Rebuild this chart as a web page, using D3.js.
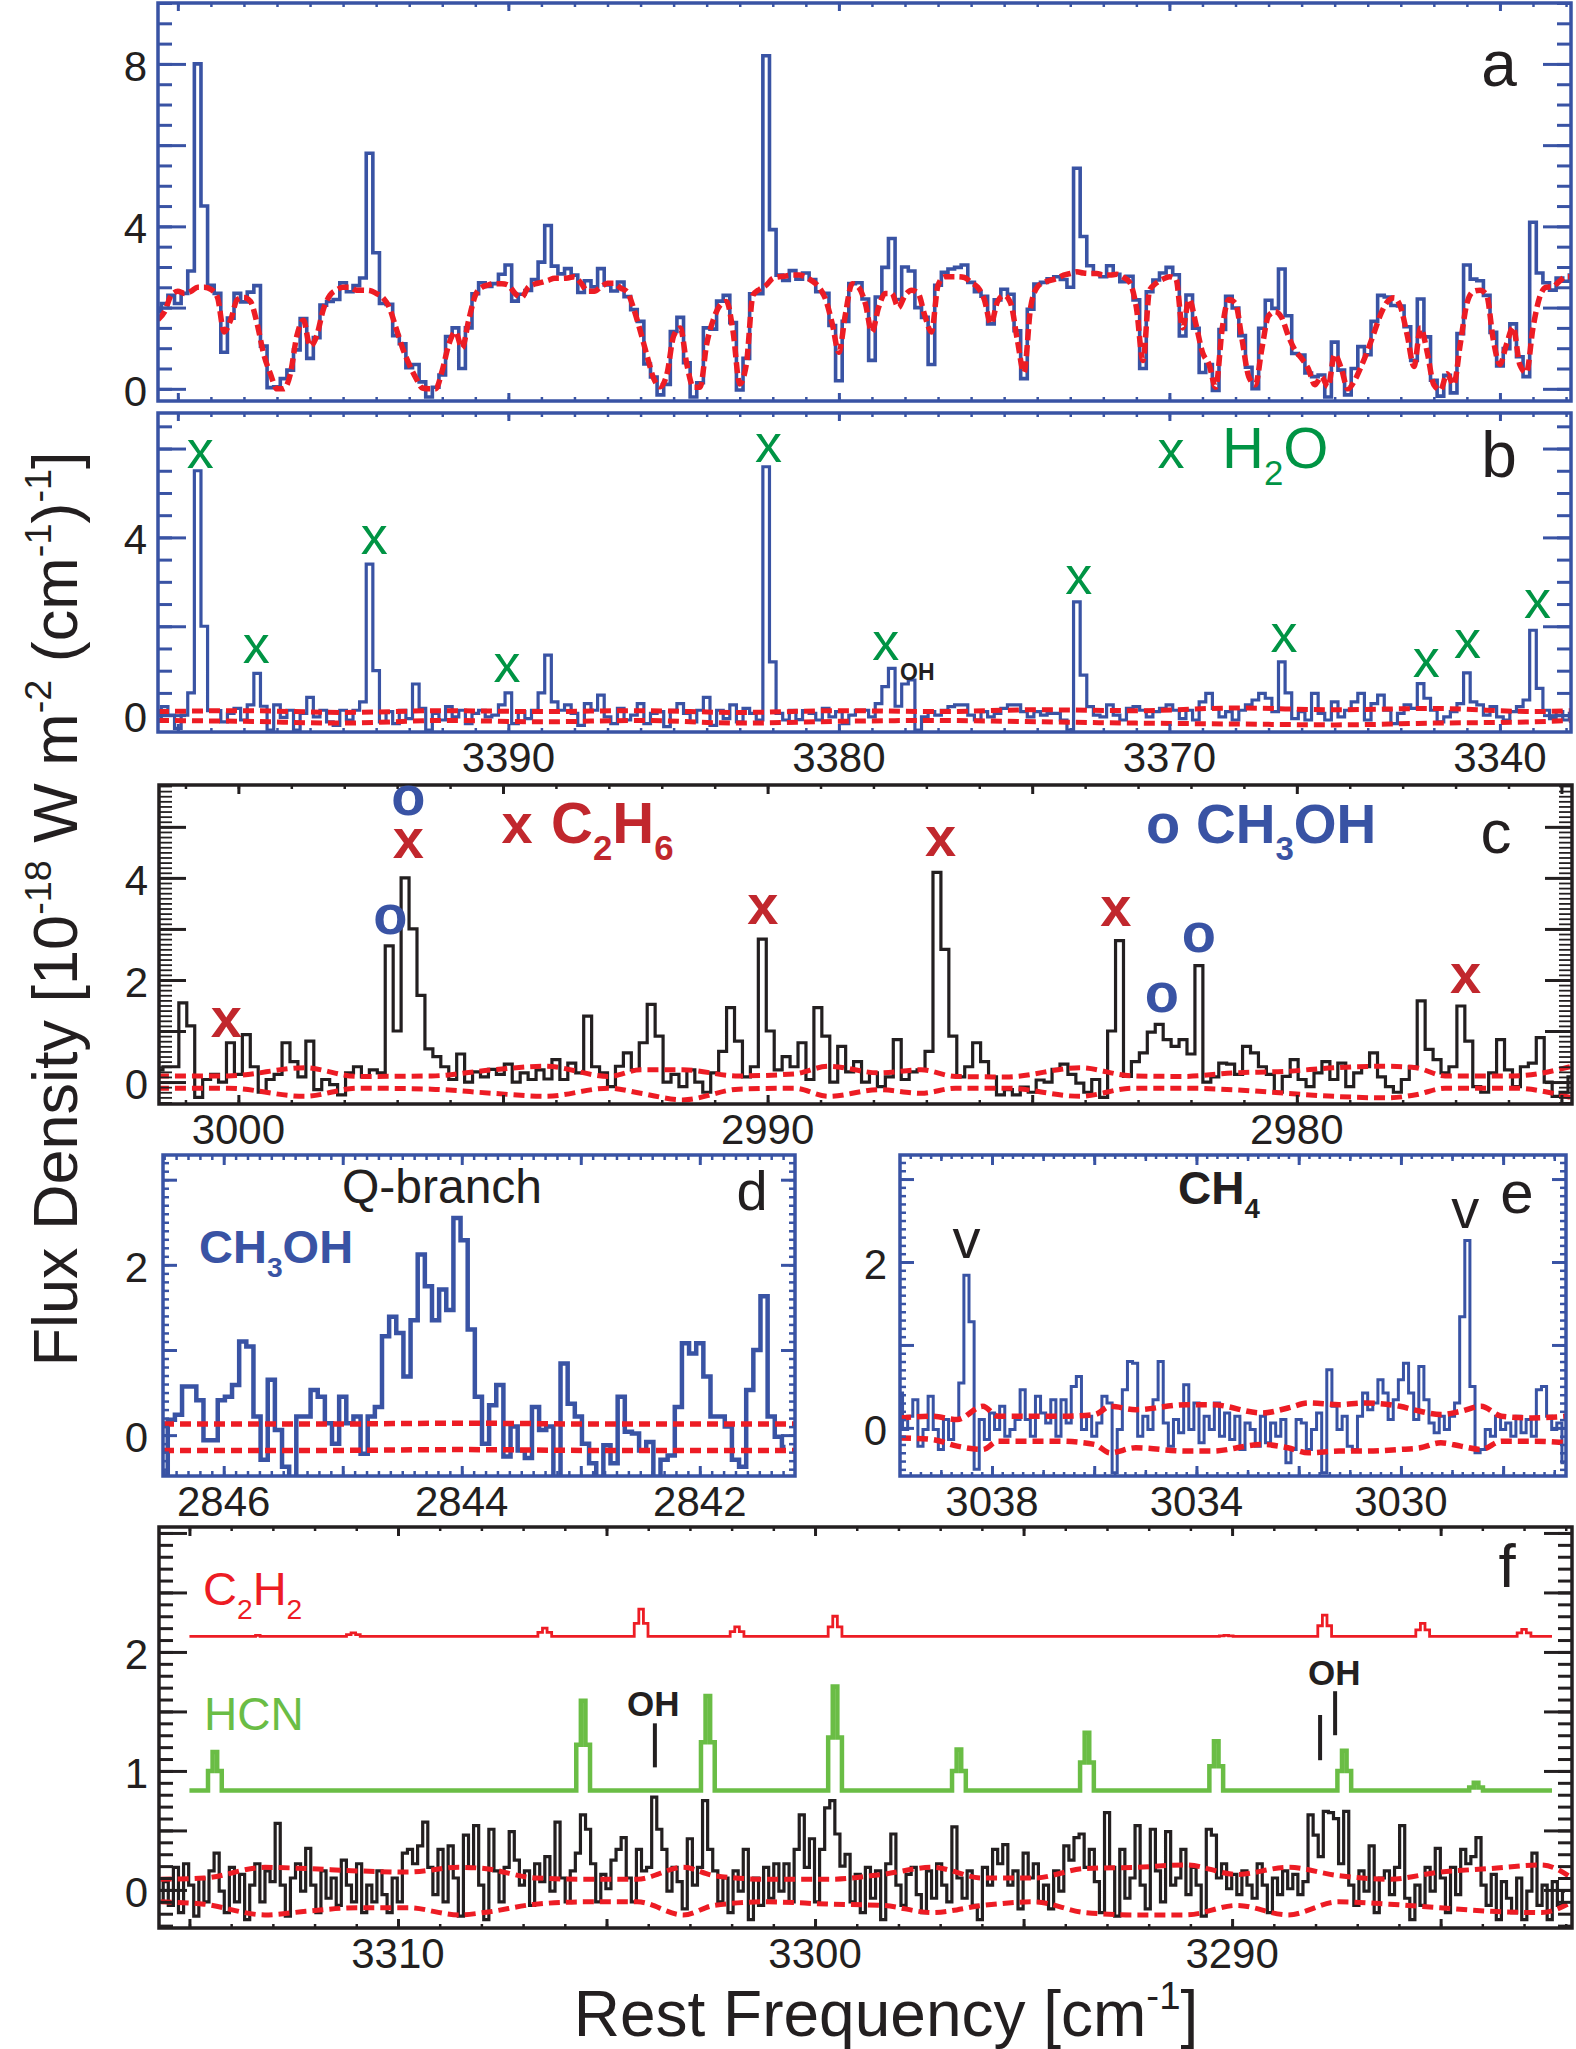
<!DOCTYPE html>
<html>
<head>
<meta charset="utf-8">
<script src="https://cdn.jsdelivr.net/npm/d3@7"></script>
<style>body { margin: 0; background: #fff; }</style>
</head>
<body>
<script>
// ---------------- data (wavenumbers in cm-1, flux in 1e-18 W m-2 (cm-1)-1) ----------------

// panels a and b share one grid: 3400.6 cm-1 down in steps of 0.2
var abStart = 3400.6, abStep = 0.2, abCount = 215;
var aFlux = [1.9, 2.1, 2.3, 2.1, 2.35, 2.9, 8.0, 4.5, 2.55, 2.35,
  0.9, 1.74, 2.35, 2.14, 2.38, 2.54, 1.05, 0.03, 0.05, 0.25,
  0.46, 0.96, 1.73, 0.75, 1.26, 2.06, 2.15, 2.2, 2.61, 2.39,
  2.54, 2.73, 5.8, 3.35, 2.1, 2.08, 1.31, 1.11, 0.52, 0.6,
  0.17, -0.2, 0.04, 0.34, 1.29, 1.5, 0.5, 1.5, 2.34, 2.61,
  2.52, 2.59, 2.82, 3.05, 2.16, 2.33, 2.42, 2.69, 3.12, 4.02,
  3.02, 2.83, 2.96, 2.8, 2.37, 2.66, 2.51, 2.96, 2.56, 2.41,
  2.63, 2.27, 1.95, 1.66, 0.61, 0.29, -0.15, 0.11, 1.41, 1.76,
  0.64, -0.2, 0.15, 1.5, 1.47, 2.16, 2.3, 1.63, -0.03, 0.75,
  2.34, 2.34, 8.2, 3.92, 2.8, 2.67, 2.91, 2.7, 2.85, 2.69,
  2.39, 2.35, 1.56, 0.2, 1.66, 2.59, 2.61, 2.21, 0.7, 2.26,
  2.99, 3.7, 2.2, 3.0, 2.9, 2.0, 1.76, 0.6, 2.55, 2.87,
  2.95, 2.99, 3.05, 2.62, 2.39, 2.28, 1.6, 2.19, 2.45, 2.33,
  1.43, 0.25, 1.96, 2.58, 2.62, 2.71, 2.76, 2.69, 2.5, 5.43,
  3.75, 3.03, 2.84, 2.76, 3.03, 2.82, 2.64, 2.77, 2.19, 0.5,
  2.39, 2.68, 2.85, 2.99, 2.81, 1.3, 2.31, 1.49, 0.4, 0.6,
  -0.04, 1.46, 2.28, 1.99, 1.31, 0.53, 0.0, 1.49, 2.18, 1.98,
  2.95, 1.8, 0.87, 0.83, 0.39, 0.3, 0.34, -0.2, 1.15, 0.46,
  -0.15, 0.5, 1.04, 0.84, 1.66, 2.3, 2.26, 2.05, 2.04, 1.53,
  0.7, 2.21, 1.28, 0.21, -0.18, 0.33, -0.1, 1.36, 3.05, 2.7,
  2.66, 2.3, 1.39, 0.56, 0.99, 1.6, 0.79, 0.3, 4.1, 2.85,
  2.61, 2.43, 2.73, 2.65, 2.8];
var aModel = [1.7, 1.9, 2.3, 2.4, 2.35, 2.4, 2.5, 2.5, 2.45, 2.25,
  1.4, 1.7, 2.2, 2.25, 2.15, 1.6, 0.85, 0.37, 0.0, 0.0,
  0.35, 1.3, 1.69, 1.05, 1.3, 1.95, 2.3, 2.43, 2.5, 2.5,
  2.43, 2.43, 2.42, 2.35, 2.25, 2.0, 1.5, 1.0, 0.6, 0.27,
  0.02, 0.0, 0.0, 0.45, 1.1, 1.4, 1.0, 1.69, 2.3, 2.5,
  2.56, 2.59, 2.59, 2.55, 2.35, 2.25, 2.5, 2.58, 2.62, 2.67,
  2.72, 2.72, 2.73, 2.76, 2.6, 2.4, 2.4, 2.51, 2.6, 2.6,
  2.48, 2.38, 1.95, 1.4, 0.8, 0.25, 0.05, 0.37, 1.3, 1.5,
  0.6, 0.04, 0.04, 1.1, 1.7, 2.05, 2.15, 1.4, 0.12, 0.6,
  2.3, 2.45, 2.55, 2.72, 2.76, 2.78, 2.8, 2.8, 2.75, 2.65,
  2.5, 2.2, 1.6, 0.9, 1.85, 2.59, 2.5, 2.1, 1.4, 2.0,
  2.35, 2.35, 2.0, 2.3, 2.43, 2.35, 1.8, 1.4, 2.55, 2.76,
  2.76, 2.76, 2.74, 2.62, 2.5, 2.2, 1.6, 2.15, 2.3, 2.1,
  1.2, 0.4, 2.0, 2.5, 2.62, 2.67, 2.72, 2.8, 2.84, 2.88,
  2.85, 2.84, 2.84, 2.8, 2.8, 2.82, 2.75, 2.62, 2.0, 0.7,
  2.43, 2.6, 2.7, 2.76, 2.7, 1.5, 2.2, 1.6, 0.9, 0.6,
  0.04, 1.5, 2.2, 2.1, 1.2, 0.3, 0.1, 1.0, 1.8, 1.9,
  1.75, 1.3, 0.95, 0.75, 0.5, 0.1, 0.3, 0.05, 0.85, 0.5,
  0.0, 0.2, 0.55, 0.95, 1.4, 1.85, 2.15, 2.24, 2.0, 1.3,
  0.55, 1.5, 0.9, 0.1, -0.03, 0.37, 0.1, 1.1, 2.1, 2.4,
  2.43, 2.3, 1.2, 0.6, 1.1, 1.52, 0.6, 0.4, 1.5, 2.25,
  2.5, 2.51, 2.65, 2.76, 2.76];
var bResid = [-0.1, 0.19, 0.0, -0.3, 0.0, 0.5, 5.5, 2.0, 0.1, 0.1,
  -0.15, 0.04, 0.15, -0.11, 0.23, 0.94, 0.2, -0.34, 0.23, -0.05,
  0.11, -0.34, 0.04, 0.4, -0.04, 0.11, -0.15, -0.23, 0.11, -0.11,
  0.11, 0.3, 3.4, 1.0, -0.15, 0.08, -0.19, 0.11, -0.08, 0.7,
  0.15, -0.34, 0.04, -0.11, 0.19, -0.04, 0.11, -0.19, 0.04, 0.11,
  -0.04, 0.0, 0.23, 0.5, -0.19, 0.08, -0.08, 0.11, 0.5, 1.35,
  0.3, 0.11, 0.23, 0.04, -0.23, 0.26, 0.11, 0.45, -0.04, -0.19,
  0.15, -0.11, 0.0, 0.26, -0.19, 0.04, 0.08, -0.26, 0.11, 0.26,
  0.04, -0.15, 0.11, 0.4, -0.23, 0.11, -0.08, 0.23, -0.15, 0.15,
  0.04, -0.11, 5.59, 1.2, 0.04, -0.11, 0.11, -0.1, 0.1, 0.04,
  -0.11, 0.15, -0.04, 0.08, -0.19, 0.0, 0.11, 0.11, -0.04, 0.26,
  0.64, 1.05, 0.2, 0.7, 0.79, -0.34, -0.04, 0.08, 0.0, 0.11,
  0.19, 0.23, 0.23, 0.0, -0.11, 0.08, -0.04, 0.04, 0.15, 0.23,
  0.23, 0.08, -0.04, 0.08, 0.0, 0.04, 0.04, -0.11, -0.34, 2.55,
  0.9, 0.19, 0.0, -0.04, 0.23, 0.0, -0.11, 0.15, 0.19, 0.11,
  -0.04, 0.08, 0.15, 0.23, 0.11, -0.08, 0.11, -0.11, 0.3, 0.49,
  0.15, -0.04, 0.08, -0.11, 0.11, 0.23, 0.34, 0.49, 0.38, 0.08,
  1.2, 0.5, -0.08, 0.08, -0.11, 0.49, 0.04, -0.11, 0.3, -0.04,
  0.11, 0.3, 0.49, -0.11, 0.26, 0.45, 0.11, -0.19, 0.04, 0.23,
  0.15, 0.71, 0.38, 0.11, -0.15, -0.04, 0.08, 0.26, 0.95, 0.3,
  0.23, 0.0, 0.19, -0.04, -0.11, 0.08, 0.19, 0.34, 1.91, 0.6,
  0.11, -0.08, 0.08, -0.11, 0.04];
var bEnvNu = [3400.6, 3398, 3395, 3392, 3389, 3386, 3383, 3380, 3377, 3374, 3371, 3368, 3365, 3362, 3359, 3357.8];
var bEnvUp = [0.08, 0.1, 0.06, 0.1, 0.08, 0.1, 0.06, 0.1, 0.08, 0.12, 0.1, 0.16, 0.12, 0.15, 0.08, 0.1];
var bEnvLo = [-0.12, -0.14, -0.18, -0.12, -0.15, -0.12, -0.18, -0.14, -0.12, -0.15, -0.18, -0.2, -0.22, -0.18, -0.15, -0.12];
var abTickVals = [3390, 3380, 3370, 3360];
var abTickLabels = ["3390", "3380", "3370", "3340"];
var h2oMarkNu = [3399.32, 3397.63, 3394.06, 3390.04, 3382.13, 3378.58, 3372.74, 3366.53, 3362.23, 3360.98, 3358.86];
var h2oMarkY = [5.57, 1.17, 3.62, 0.74, 5.69, 1.24, 2.72, 1.42, 0.85, 1.28, 2.18];

// panel c
var cStart = 3001.5, cStep = 0.15, cCount = 179;
var cFlux = [0.24, 0.3, 0.3, 1.55, 1.1, -0.3, 0.05, 0.15, 0.0, 0.77,
  0.15, 0.93, 0.3, -0.2, 0.05, 0.15, 0.77, 0.4, 0.1, 0.8,
  -0.15, 0.05, -0.05, -0.25, 0.18, 0.3, 0.1, 0.24, 0.18, 2.67,
  1.0, 4.0, 3.0, 1.7, 0.65, 0.5, 0.3, 0.05, 0.55, 0.0,
  0.2, 0.1, 0.25, 0.15, 0.35, 0.0, 0.18, 0.05, 0.24, 0.06,
  0.44, 0.05, 0.37, 0.18, 1.29, 0.3, 0.18, -0.09, 0.31, 0.57,
  0.24, 0.77, 1.52, 0.9, 0.0, 0.15, -0.09, 0.24, 0.0, -0.2,
  0.18, 0.6, 1.46, 0.8, 0.1, 0.3, 2.8, 1.0, 0.24, 0.5,
  0.3, 0.77, 0.05, 1.46, 0.9, 0.0, 0.7, 0.2, 0.4, 0.0,
  0.18, -0.09, 0.1, 0.83, 0.05, 0.2, 0.24, 0.6, 4.11, 2.6,
  0.9, 0.1, 0.3, 0.77, 0.4, 0.1, -0.25, -0.15, -0.25, -0.1,
  -0.2, 0.04, 0.0, 0.25, 0.35, 0.15, -0.02, -0.2, 0.05, -0.3,
  1.0, 2.77, 0.11, 0.4, 0.57, 0.98, 1.13, 0.83, 0.7, 0.83,
  0.55, 2.28, 0.0, 0.1, 0.37, 0.35, 0.15, 0.7, 0.57, 0.3,
  0.15, -0.2, 0.11, 0.44, 0.05, -0.09, 0.18, 0.4, 0.05, 0.37,
  -0.09, 0.18, 0.3, 0.57, 0.1, -0.09, -0.2, 0.05, 0.3, 1.59,
  0.64, 0.44, 0.18, 0.3, 1.49, 0.8, -0.09, -0.2, 0.18, 0.83,
  0.24, -0.09, 0.3, 0.37, 0.87, 0.0, -0.28, -0.2, 0.1];
var cEnvNu = [3001.52, 3000.2, 2998.75, 2997.75, 2996.35, 2995.2, 2994.2, 2993.0, 2992.4, 2991.6,
  2990.55, 2989.5, 2988.85, 2987.9, 2987.1, 2986.45, 2985.5, 2984.1, 2983.1, 2982.15,
  2981.2, 2980.2, 2979.3, 2978.3, 2977.75, 2977.2, 2975.9, 2974.8];
var cEnvUp = [0.12, 0.12, 0.28, 0.11, 0.12, 0.24, 0.31, 0.11, 0.24, 0.24,
  0.12, 0.16, 0.31, 0.18, 0.24, 0.11, 0.10, 0.28, 0.12, 0.11,
  0.18, 0.21, 0.28, 0.31, 0.28, 0.12, 0.12, 0.31];
var cEnvLo = [-0.12, -0.12, -0.28, -0.12, -0.14, -0.22, -0.28, -0.12, -0.22, -0.35,
  -0.14, -0.12, -0.28, -0.15, -0.22, -0.12, -0.12, -0.28, -0.12, -0.12,
  -0.15, -0.22, -0.28, -0.31, -0.25, -0.12, -0.12, -0.31];
var cTickVals = [3000, 2990, 2980];
var c2h6MarkNu = [3000.23, 2996.79, 2990.09, 2986.73, 2983.42, 2976.81];
var c2h6MarkY = [0.89, 4.38, 3.1, 4.42, 3.06, 1.74];
var ch3ohMarkNu = [2997.13, 2996.79, 2982.55, 2981.85];
var ch3ohMarkY = [2.9, 5.24, 1.38, 2.55];

// panel d (CH3OH Q-branch)
var dStart = 2846.5, dStep = 0.06, dCount = 88;
var dFlux = [-0.5, 0.18, 0.24, 0.57, 0.57, 0.41, -0.06, -0.06, 0.41, 0.45,
  0.59, 1.1, 1.04, 0.22, -0.29, 0.65, 0.06, -0.37, -0.5, 0.22,
  0.22, 0.53, 0.45, 0.14, -0.1, 0.45, 0.14, 0.22, -0.22, 0.22,
  0.33, 1.16, 1.39, 1.2, 0.69, 1.35, 2.12, 1.75, 1.35, 1.71,
  1.47, 2.55, 2.29, 1.24, 0.45, -0.1, 0.35, 0.59, -0.25, 0.1,
  -0.18, -0.27, 0.33, 0.06, 0.1, -0.5, 0.84, 0.37, 0.22, -0.1,
  -0.33, -0.5, -0.12, -0.33, 0.45, 0.04, 0.02, -0.18, -0.08, -0.5,
  -0.29, -0.24, 0.33, 1.08, 0.96, 1.08, 0.69, 0.22, 0.22, 0.1,
  -0.29, -0.37, 0.53, 1.0, 1.63, 0.22, -0.02, -0.14];
var dEnvNu = [2846.51, 2845.2, 2844.0, 2842.8, 2841.2];
var dEnvUp = [0.13, 0.13, 0.14, 0.13, 0.13];
var dEnvLo = [-0.18, -0.18, -0.17, -0.18, -0.18];
var dTickVals = [2846, 2844, 2842];

// panel e (CH4)
var eStart = 3039.8, eStep = 0.1, eCount = 131;
var eFlux = [0.42, -0.02, 0.14, 0.34, -0.22, -0.02, 0.38, -0.02, -0.26, 0.1,
  -0.14, 0.1, 0.54, 1.84, 1.28, -0.5, 0.1, -0.14, 0.18, -0.02,
  0.26, -0.1, -0.02, 0.1, 0.46, 0.1, -0.1, 0.38, 0.18, 0.06,
  0.34, -0.1, 0.34, 0.06, 0.5, 0.62, -0.02, 0.14, -0.1, 0.06,
  0.38, 0.3, -0.54, -0.02, 0.46, 0.8, 0.78, -0.1, 0.14, -0.02,
  0.34, 0.8, 0.06, -0.22, 0.1, -0.06, 0.52, -0.02, 0.3, -0.18,
  0.14, -0.02, 0.3, -0.1, 0.18, -0.14, 0.14, -0.26, 0.06, -0.02,
  -0.22, 0.14, -0.18, 0.06, -0.1, 0.1, -0.42, -0.26, 0.1, 0.06,
  -0.26, -0.02, 0.18, -0.54, 0.7, 0.26, -0.02, 0.14, -0.22, -0.26,
  0.14, 0.42, 0.22, 0.3, 0.58, 0.42, 0.1, 0.34, 0.58, 0.78,
  0.42, 0.1, 0.74, 0.34, 0.06, -0.06, 0.14, -0.02, 0.14, 0.3,
  1.34, 2.26, 0.5, -0.3, -0.26, -0.02, -0.1, 0.14, -0.02, 0.06,
  -0.1, 0.14, -0.06, 0.1, -0.1, 0.46, 0.5, 0.14, -0.02, 0.06, -0.42];
var eEnvNu = [3039.8, 3039.17, 3038.68, 3038.18, 3037.88, 3036.69, 3035.99, 3035.69, 3035.19, 3034.2,
  3033.7, 3032.71, 3032.21, 3031.81, 3031.21, 3030.72, 3030.02, 3029.62, 3029.22, 3028.83,
  3028.43, 3028.03, 3027.43, 3026.76];
var eEnvUp = [0.12, 0.14, 0.1, 0.26, 0.14, 0.14, 0.16, 0.26, 0.22, 0.28,
  0.28, 0.18, 0.24, 0.3, 0.28, 0.3, 0.26, 0.2, 0.16, 0.2, 0.26, 0.14, 0.12, 0.14];
var eEnvLo = [-0.12, -0.14, -0.22, -0.26, -0.16, -0.16, -0.2, -0.3, -0.24, -0.28,
  -0.28, -0.2, -0.24, -0.3, -0.28, -0.28, -0.26, -0.24, -0.18, -0.22, -0.26, -0.16, -0.16, -0.18];
var eTickVals = [3038, 3034, 3030];
var ch4MarkNu = [3038.5, 3028.74];
var ch4MarkY = [2.05, 2.41];

// panel f (HCN / C2H2 region)
var fStart = 3315.69, fStep = 0.122, fCount = 277;
var fFlux = [-0.1, 0.07, -0.13, 0.19, -0.19, 0.22, 0.04, -0.22, 0.10, -0.10,
  0.16, 0.31, -0.01, -0.19, 0.19, -0.10, 0.13, -0.25, 0.04, 0.22,
  -0.10, 0.16, 0.07, 0.56, 0.04, -0.22, 0.10, 0.22, -0.01, 0.35,
  0.04, -0.19, 0.16, -0.07, 0.10, -0.13, 0.25, 0.04, -0.10, 0.22,
  -0.19, 0.04, -0.10, 0.16, -0.04, -0.19, 0.10, -0.10, 0.31, 0.34,
  0.22, 0.37, 0.57, 0.19, -0.04, 0.34, -0.10, 0.37, 0.10, -0.22,
  0.46, 0.19, 0.54, 0.04, -0.25, 0.51, 0.16, -0.10, 0.19, 0.49,
  0.25, 0.04, 0.16, -0.13, 0.22, 0.07, 0.28, -0.01, 0.57, 0.10,
  -0.10, 0.16, 0.31, 0.63, 0.51, 0.22, -0.10, 0.13, 0.01, 0.25,
  0.34, 0.44, 0.10, -0.10, 0.34, 0.16, 0.19, 0.78, 0.51, 0.34,
  -0.01, 0.19, 0.07, -0.16, 0.43, 0.04, 0.19, 0.75, 0.34, 0.16,
  -0.10, 0.10, -0.19, 0.16, -0.01, 0.34, -0.25, 0.10, -0.13, 0.19,
  -0.07, 0.22,
  -0.01, 0.22, -0.10, 0.34, 0.63, 0.19, 0.43, -0.10, 0.34, 0.69,
  0.75, 0.47, 0.2, 0.3, -0.1, 0.13, -0.19, 0.19, -0.07, 0.16,
  -0.25, 0.22, 0.47, 0.04, -0.13, 0.13, 0.19, -0.04, -0.19, 0.16,
  -0.07, 0.22, 0.04, -0.10, 0.53, 0.10, -0.07, 0.16, -0.13, -0.25,
  0.19, 0.04, 0.34, 0.22, 0.38, 0.04, 0.16, -0.16, 0.31, 0.10,
  0.22, -0.10, 0.04, -0.16, 0.16, -0.01, 0.37, 0.25, 0.44, 0.47,
  0.19, 0.34, 0.07, -0.19, 0.65, 0.19, -0.22, 0.34, -0.07, 0.10,
  0.54, 0.04, -0.16, 0.51, 0.16, -0.10, 0.49, 0.04, 0.10, 0.34,
  -0.04, 0.19, 0.04, -0.22, 0.51, 0.46, 0.10, 0.22, 0.01, 0.13,
  -0.04, 0.16, 0.04, -0.07, 0.22, 0.04, -0.19, 0.10, -0.04, 0.16,
  0.01, 0.13, -0.04, 0.07, 0.63, 0.46, 0.28, 0.66, 0.65, 0.60,
  0.22, 0.66, 0.04, -0.13, 0.16, -0.01, 0.37, -0.19, 0.10, 0.16,
  -0.04, 0.19, 0.54, -0.07, -0.25, 0.04, -0.13, 0.19, -0.01, 0.35,
  0.10, -0.19, 0.19, -0.04, 0.34, 0.22, 0.28, 0.44, 0.04, -0.13,
  0.13, -0.25, 0.07, -0.07, -0.19, 0.10, -0.25, -0.01, 0.31, -0.13,
  0.04, -0.25, 0.07, -0.13, -0.01];
var fEnvNu = [3315.69, 3314.65, 3313.19, 3312.21, 3310.98, 3309.76, 3308.54, 3307.93, 3306.70, 3305.48,
  3304.26, 3303.16, 3302.42, 3301.2, 3299.62, 3298.4, 3297.19, 3295.97, 3294.75, 3293.53,
  3292.32, 3291.1, 3289.88, 3288.66, 3287.45, 3286.23, 3285.01, 3283.79, 3282.58, 3281.85];
var fEnvUp = [0.09, 0.1, 0.19, 0.18, 0.16, 0.15, 0.19, 0.18, 0.10, 0.09,
  0.09, 0.19, 0.12, 0.09, 0.09, 0.13, 0.19, 0.10, 0.10, 0.18,
  0.19, 0.21, 0.13, 0.19, 0.12, 0.09, 0.15, 0.18, 0.21, 0.10];
var fEnvLo = [-0.10, -0.12, -0.21, -0.18, -0.15, -0.15, -0.21, -0.19, -0.12, -0.10,
  -0.10, -0.21, -0.13, -0.10, -0.12, -0.13, -0.19, -0.13, -0.10, -0.19,
  -0.21, -0.21, -0.13, -0.21, -0.10, -0.12, -0.15, -0.18, -0.19, -0.10];
// offset model spectra drawn above the data
var hcnNu = [3315.0,
  3314.61, 3314.50, 3314.39, 3314.28, 3314.17,
  3305.78, 3305.67, 3305.56, 3305.45, 3305.34,
  3302.79, 3302.68, 3302.57, 3302.46, 3302.35,
  3299.74, 3299.63, 3299.52, 3299.41, 3299.30,
  3296.77, 3296.66, 3296.55, 3296.44, 3296.33,
  3293.70, 3293.59, 3293.48, 3293.37, 3293.26,
  3290.60, 3290.49, 3290.38, 3290.27, 3290.16,
  3287.53, 3287.42, 3287.31, 3287.20, 3287.09,
  3284.37, 3284.26, 3284.15, 3284.04, 3283.93,
  3282.33];
var hcnFlux = [0.836,
  0.836, 1.0, 1.16, 1.0, 0.836,
  0.836, 1.22, 1.59, 1.22, 0.836,
  0.836, 1.24, 1.63, 1.24, 0.836,
  0.836, 1.28, 1.71, 1.28, 0.836,
  0.836, 1.0, 1.18, 1.0, 0.836,
  0.836, 1.07, 1.32, 1.07, 0.836,
  0.836, 1.04, 1.25, 1.04, 0.836,
  0.836, 1.0, 1.17, 1.0, 0.836,
  0.836, 0.86, 0.9, 0.86, 0.836,
  0.836];
var c2h2Nu = [3315.0,
  3313.47, 3313.36, 3313.25,
  3311.29, 3311.18, 3311.07, 3310.96, 3310.85,
  3306.70, 3306.59, 3306.48, 3306.37, 3306.26,
  3304.39, 3304.28, 3304.17, 3304.06, 3303.95,
  3302.09, 3301.98, 3301.87, 3301.76, 3301.65,
  3299.74, 3299.63, 3299.52, 3299.41, 3299.30,
  3290.36, 3290.25, 3290.14, 3290.03, 3289.92,
  3288.00, 3287.89, 3287.78, 3287.67, 3287.56,
  3285.65, 3285.54, 3285.43, 3285.32, 3285.21,
  3283.22, 3283.11, 3283.00, 3282.89, 3282.78,
  3282.33];
var c2h2Flux = [2.13,
  2.13, 2.14, 2.13,
  2.13, 2.145, 2.16, 2.145, 2.13,
  2.13, 2.165, 2.2, 2.165, 2.13,
  2.13, 2.24, 2.36, 2.24, 2.13,
  2.13, 2.17, 2.21, 2.17, 2.13,
  2.13, 2.21, 2.3, 2.21, 2.13,
  2.13, 2.135, 2.14, 2.135, 2.13,
  2.13, 2.22, 2.31, 2.22, 2.13,
  2.13, 2.185, 2.24, 2.185, 2.13,
  2.13, 2.16, 2.19, 2.16, 2.13,
  2.13];
var ohNu = [3303.84, 3287.89, 3287.53];
var ohTop = [1.40, 1.47, 1.67];
var ohBottom = [1.03, 1.09, 1.30];
var ohLabelNu = [3303.88, 3287.55];
var ohLabelY = [1.46, 1.72];
var fTickVals = [3310, 3300, 3290];

// ---------------- drawing ----------------
var FONT = "'Liberation Sans', Arial, Helvetica, sans-serif";
var BLUE = "#3953a4", RED = "#ed1c24", DARKRED = "#c1272d", GREEN = "#009444", LIGHTGREEN = "#6abd45";
var INK = "#231f20";
var TICKFONT = 42;

var svg = d3.select("body").append("svg").attr("width", 1576).attr("height", 2049);
svg.append("rect").attr("width", 1576).attr("height", 2049).attr("fill", "#fff");
var defs = svg.append("defs");

function grid(start, step, n) {
  return d3.range(n).map(function (i) { return start - i * step; });
}
function steps(a, b, step) {
  var n = Math.round((b - a) / step);
  return d3.range(n + 1).map(function (i) { return +(a + i * step).toFixed(4); });
}

function makePanel(id, x0, x1, y0, y1, xd, yd, frame) {
  var p = { id: id, x0: x0, x1: x1, y0: y0, y1: y1, frame: frame };
  p.x = d3.scaleLinear().domain(xd).range([x0, x1]);
  p.y = d3.scaleLinear().domain(yd).range([y1, y0]);
  defs.append("clipPath").attr("id", "clip-" + id).append("rect")
    .attr("x", x0).attr("y", y0).attr("width", x1 - x0).attr("height", y1 - y0);
  p.g = svg.append("g").attr("clip-path", "url(#clip-" + id + ")");
  return p;
}

function series(p, nu, vals, color, width, curve, dash) {
  var line = d3.line().x(function (d) { return p.x(d[0]); })
    .y(function (d) { return p.y(d[1]); }).curve(curve || d3.curveStep);
  var path = p.g.append("path").datum(d3.zip(nu, vals)).attr("d", line)
    .attr("fill", "none").attr("stroke", color).attr("stroke-width", width);
  if (dash) path.attr("stroke-dasharray", dash);
}

function frame(p) {
  svg.append("rect").attr("x", p.x0).attr("y", p.y0)
    .attr("width", p.x1 - p.x0).attr("height", p.y1 - p.y0)
    .attr("fill", "none").attr("stroke", p.frame).attr("stroke-width", 3.5);
}

// ticks point inward on all four sides, like the IDL plots
function ticks(p, side, values, len, width) {
  var gen, tr;
  if (side == "bottom") { gen = d3.axisBottom(p.x); tr = "translate(0," + p.y1 + ")"; }
  else if (side == "top") { gen = d3.axisTop(p.x); tr = "translate(0," + p.y0 + ")"; }
  else if (side == "left") { gen = d3.axisLeft(p.y); tr = "translate(" + p.x0 + ",0)"; }
  else { gen = d3.axisRight(p.y); tr = "translate(" + p.x1 + ",0)"; }
  gen.tickValues(values).tickSizeInner(-len).tickSizeOuter(0).tickFormat("");
  var g = svg.append("g").attr("transform", tr).call(gen);
  g.select(".domain").remove();
  g.selectAll("text").remove();
  g.selectAll("line").attr("stroke", p.frame).attr("stroke-width", width);
}
function xTicks(p, vals, len, w) { ticks(p, "bottom", vals, len, w); ticks(p, "top", vals, len, w); }
function yTicks(p, vals, len, w) { ticks(p, "left", vals, len, w); ticks(p, "right", vals, len, w); }

function xLabels(p, vals, labels) {
  vals.forEach(function (v, i) {
    svg.append("text").attr("x", p.x(v)).attr("y", p.y1 + 40)
      .attr("text-anchor", "middle").attr("font-family", FONT).attr("font-size", TICKFONT)
      .attr("fill", INK).text(labels ? labels[i] : v);
  });
}
function yLabels(p, vals, gap) {
  vals.forEach(function (v) {
    svg.append("text").attr("x", p.x0 - (gap || 11)).attr("y", p.y(v) + 17)
      .attr("text-anchor", "end").attr("font-family", FONT).attr("font-size", TICKFONT)
      .attr("fill", INK).text(v);
  });
}

// text with sub/superscript runs: [["H", "n"], ["2", "sub"], ["O", "n"]]
function rich(x, y, runs, size, attrs) {
  var t = svg.append("text").attr("x", x).attr("y", y)
    .attr("font-family", FONT).attr("font-size", size);
  for (var k in attrs) t.attr(k, attrs[k]);
  var shift = 0;
  runs.forEach(function (r) {
    var target = r[1] == "sup" ? -0.42 * size : (r[1] == "sub" ? 0.3 * size : 0);
    var ts = t.append("tspan").attr("dy", target - shift).text(r[0]);
    if (r[1] != "n") ts.attr("font-size", size * 0.6);
    shift = target;
  });
  return t;
}

function marks(p, nu, ys, ch, color, size, weight) {
  svg.append("g").selectAll("text").data(d3.zip(nu, ys)).join("text")
    .attr("x", function (d) { return p.x(d[0]); })
    .attr("y", function (d) { return p.y(d[1]); })
    .attr("text-anchor", "middle").attr("font-family", FONT)
    .attr("font-size", size).attr("font-weight", weight).attr("fill", color).text(ch);
}

function envelope(p, nu, up, lo, width, dash) {
  series(p, nu, up, RED, width, d3.curveMonotoneX, dash);
  series(p, nu, lo, RED, width, d3.curveMonotoneX, dash);
}

var abNu = grid(abStart, abStep, abCount);

// ---- panel a ----
var pa = makePanel("a", 158, 1571, 3, 401, [3400.6, 3357.85], [-0.3, 9.5], BLUE);
series(pa, abNu, aFlux, BLUE, 3.6);
series(pa, abNu, aModel, RED, 5.5, d3.curveMonotoneX, "11,5");
frame(pa);
xTicks(pa, steps(3358, 3400, 1), 4, 2.5);
xTicks(pa, steps(3360, 3400, 10), 8, 3);
yTicks(pa, steps(0, 9.5, 0.5), 14, 3);
yTicks(pa, steps(0, 8, 2), 28, 3);
yLabels(pa, [0, 4, 8]);
svg.append("text").attr("x", 1499).attr("y", 86).attr("text-anchor", "middle")
  .attr("font-family", FONT).attr("font-size", 64).attr("fill", INK).text("a");

// ---- panel b ----
var pb = makePanel("b", 158, 1571, 413, 732, [3400.6, 3357.85], [-0.38, 6.8], BLUE);
series(pb, abNu, bResid, BLUE, 3.2);
envelope(pb, bEnvNu, bEnvUp, bEnvLo, 5, "11,6");
frame(pb);
xTicks(pb, steps(3358, 3400, 1), 4, 2.5);
xTicks(pb, steps(3360, 3400, 10), 8, 3);
yTicks(pb, steps(0, 6.5, 0.5), 14, 3);
yTicks(pb, steps(0, 6, 2), 28, 3);
yLabels(pb, [0, 4]);
xLabels(pb, abTickVals, abTickLabels);
marks(pb, h2oMarkNu, h2oMarkY, "x", GREEN, 54, "normal");
svg.append("text").attr("x", 1171).attr("y", 468).attr("text-anchor", "middle")
  .attr("font-family", FONT).attr("font-size", 54).attr("fill", GREEN).text("x");
rich(1222, 468, [["H", "n"], ["2", "sub"], ["O", "n"]], 58, { fill: GREEN });
svg.append("text").attr("x", 900).attr("y", 680).attr("font-family", FONT)
  .attr("font-size", 23).attr("font-weight", "bold").attr("fill", INK).text("OH");
svg.append("text").attr("x", 1499).attr("y", 477).attr("text-anchor", "middle")
  .attr("font-family", FONT).attr("font-size", 64).attr("fill", INK).text("b");

// ---- panel c ----
var pc = makePanel("c", 159, 1572, 785, 1104, [3001.5, 2974.8], [-0.43, 5.82], INK);
series(pc, grid(cStart, cStep, cCount), cFlux, INK, 3.2);
envelope(pc, cEnvNu, cEnvUp, cEnvLo, 5, "11,6");
frame(pc);
xTicks(pc, steps(2975, 3001, 1), 4, 2.5);
xTicks(pc, steps(2975, 3000, 5), 9, 3);
yTicks(pc, steps(-0.4, 5.8, 0.1), 13, 1.8);
yTicks(pc, steps(0, 5, 1), 27, 3);
yLabels(pc, [0, 2, 4]);
xLabels(pc, cTickVals);
marks(pc, c2h6MarkNu, c2h6MarkY, "x", DARKRED, 56, "bold");
marks(pc, ch3ohMarkNu, ch3ohMarkY, "o", BLUE, 56, "bold");
svg.append("text").attr("x", 517).attr("y", 843).attr("text-anchor", "middle")
  .attr("font-family", FONT).attr("font-size", 56).attr("font-weight", "bold").attr("fill", DARKRED).text("x");
rich(551, 843, [["C", "n"], ["2", "sub"], ["H", "n"], ["6", "sub"]], 58, { fill: DARKRED, "font-weight": "bold" });
svg.append("text").attr("x", 1163).attr("y", 843).attr("text-anchor", "middle")
  .attr("font-family", FONT).attr("font-size", 56).attr("font-weight", "bold").attr("fill", BLUE).text("o");
rich(1196, 843, [["CH", "n"], ["3", "sub"], ["OH", "n"]], 55, { fill: BLUE, "font-weight": "bold" });
svg.append("text").attr("x", 1496).attr("y", 853).attr("text-anchor", "middle")
  .attr("font-family", FONT).attr("font-size", 62).attr("fill", INK).text("c");

// ---- panel d ----
var pd = makePanel("d", 163, 795, 1155, 1476, [2846.51, 2841.2], [-0.48, 3.29], BLUE);
series(pd, grid(dStart, dStep, dCount), dFlux, BLUE, 4.5);
envelope(pd, dEnvNu, dEnvUp, dEnvLo, 5.5, "11,6");
frame(pd);
xTicks(pd, steps(2841.3, 2846.5, 0.1), 5, 2.5);
xTicks(pd, steps(2842, 2846, 1), 10, 3);
yTicks(pd, steps(-0.4, 3.2, 0.1), 6, 2.5);
yTicks(pd, steps(0, 3, 1), 14, 3);
yLabels(pd, [0, 2], 15);
xLabels(pd, dTickVals);
svg.append("text").attr("x", 442).attr("y", 1203).attr("text-anchor", "middle")
  .attr("font-family", FONT).attr("font-size", 48).attr("fill", INK).text("Q-branch");
rich(199, 1263, [["CH", "n"], ["3", "sub"], ["OH", "n"]], 47, { fill: BLUE, "font-weight": "bold" });
svg.append("text").attr("x", 752).attr("y", 1210).attr("text-anchor", "middle")
  .attr("font-family", FONT).attr("font-size", 56).attr("fill", INK).text("d");

// ---- panel e ----
var pe = makePanel("e", 900, 1566, 1155, 1476, [3039.8, 3026.77], [-0.58, 3.29], BLUE);
series(pe, grid(eStart, eStep, eCount), eFlux, BLUE, 3);
envelope(pe, eEnvNu, eEnvUp, eEnvLo, 5.5, "11,6");
frame(pe);
xTicks(pe, steps(3027, 3039.6, 0.2), 4, 2.5);
xTicks(pe, steps(3027, 3039, 1), 6, 2.5);
xTicks(pe, steps(3028, 3038, 2), 10, 3);
yTicks(pe, steps(-0.5, 3.2, 0.1), 6, 2.5);
yTicks(pe, steps(0, 3, 1), 14, 3);
yLabels(pe, [0, 2], 13);
xLabels(pe, eTickVals);
marks(pe, ch4MarkNu, ch4MarkY, "v", INK, 56, "normal");
rich(1178, 1204, [["CH", "n"], ["4", "sub"]], 46, { fill: INK, "font-weight": "bold" });
svg.append("text").attr("x", 1517).attr("y", 1213).attr("text-anchor", "middle")
  .attr("font-family", FONT).attr("font-size", 60).attr("fill", INK).text("e");

// ---- panel f ----
var pf = makePanel("f", 159, 1572, 1527, 1928, [3315.73, 3281.85], [-0.32, 3.05], INK);
series(pf, grid(fStart, fStep, fCount), fFlux, INK, 3.2);
envelope(pf, fEnvNu, fEnvUp, fEnvLo, 5, "11,6");
series(pf, hcnNu, hcnFlux, LIGHTGREEN, 4.5);
series(pf, c2h2Nu, c2h2Flux, RED, 2.8);
pf.g.selectAll(null).data(d3.zip(ohNu, ohTop, ohBottom)).join("line")
  .attr("x1", function (d) { return pf.x(d[0]); }).attr("x2", function (d) { return pf.x(d[0]); })
  .attr("y1", function (d) { return pf.y(d[1]); }).attr("y2", function (d) { return pf.y(d[2]); })
  .attr("stroke", INK).attr("stroke-width", 4);
marks(pf, ohLabelNu, ohLabelY, "OH", INK, 35, "bold");
frame(pf);
xTicks(pf, steps(3282, 3315, 1), 4, 2.5);
xTicks(pf, steps(3285, 3315, 5), 9, 3);
yTicks(pf, steps(-0.3, 3.0, 0.1), 14, 3);
yTicks(pf, steps(0, 3, 0.5), 28, 3);
yLabels(pf, [0, 1, 2]);
xLabels(pf, fTickVals);
rich(203, 1605, [["C", "n"], ["2", "sub"], ["H", "n"], ["2", "sub"]], 47, { fill: RED });
svg.append("text").attr("x", 204).attr("y", 1730).attr("font-family", FONT)
  .attr("font-size", 46).attr("fill", LIGHTGREEN).text("HCN");
svg.append("text").attr("x", 1507).attr("y", 1587).attr("text-anchor", "middle")
  .attr("font-family", FONT).attr("font-size", 62).attr("fill", INK).text("f");

// ---- axis titles ----
rich(886, 2036, [["Rest Frequency [cm", "n"], ["-1", "sup"], ["]", "n"]], 64,
  { "text-anchor": "middle", fill: INK });
rich(77, 909, [["Flux Density [10", "n"], ["-18", "sup"], [" W m", "n"], ["-2", "sup"],
  [" (cm", "n"], ["-1", "sup"], [")", "n"], ["-1", "sup"], ["]", "n"]], 63,
  { "text-anchor": "middle", fill: INK, transform: "rotate(-90,77,909)" });
</script>
</body>
</html>
